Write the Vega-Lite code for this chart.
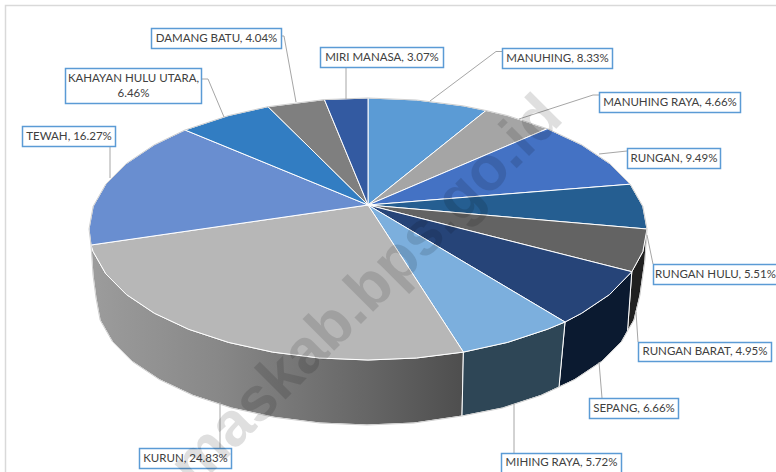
{"$schema":"https://vega.github.io/schema/vega-lite/v6.json","width":776,"height":472,"padding":0,"autosize":"none","background":"white","view":{"stroke":null},
"datasets":{
"walls":[
{"type":"Feature","properties":{"name":"RUNGAN BARAT","share":4.95},"geometry":{"type":"Polygon","coordinates":[[[647,229],[642.8,251.7],[631.8,271.7],[627.5,331],[634,320],[640,295],[645,260],[647,229]]]}},
{"type":"Feature","properties":{"name":"SEPANG","share":6.66},"geometry":{"type":"Polygon","coordinates":[[[631.8,271.7],[609.6,294.5],[581.7,313.2],[565,322],[559,387],[574.6,379.6],[601.7,361.5],[621.7,341.4],[627.5,331],[631.8,271.7]]]}},
{"type":"Feature","properties":{"name":"MIHING RAYA","share":5.72},"geometry":{"type":"Polygon","coordinates":[[[565,322],[547.3,329.3],[507.5,342.4],[463.4,352.1],[462,416],[502.5,408],[541.2,395.3],[559,387],[565,322]]]}}
],
"wallKurun":[
{"type":"Feature","properties":{"name":"KURUN","share":24.83},"geometry":{"type":"Polygon","coordinates":[[[463.4,352.1],[416.4,358],[368,360],[319.6,358],[272.6,352.1],[228.5,342.4],[188.7,329.3],[154.3,313.2],[126.4,294.5],[105.8,273.8],[93.2,251.7],[91,245],[93,275],[96,298],[100.1,320],[112.3,341.4],[132.3,361.5],[159.4,379.6],[192.8,395.3],[231.5,408],[274.3,417.3],[320,423],[367,425],[414,423],[462,416],[463.4,352.1]]]}}
],
"slices":[
{"type":"Feature","properties":{"name":"MANUHING","share":8.33},"geometry":{"type":"Polygon","coordinates":[[[368,205],[368,98],[416.4,100],[463.4,105.9],[486,110.5],[368,205]]]}},
{"type":"Feature","properties":{"name":"MANUHING RAYA","share":4.66},"geometry":{"type":"Polygon","coordinates":[[[368,205],[486,110.5],[507.5,115.6],[547.3,128.7],[368,205]]]}},
{"type":"Feature","properties":{"name":"RUNGAN","share":9.49},"geometry":{"type":"Polygon","coordinates":[[[368,205],[547.3,128.7],[581.7,144.8],[609.6,163.5],[630.2,184.2],[368,205]]]}},
{"type":"Feature","properties":{"name":"RUNGAN HULU","share":5.51},"geometry":{"type":"Polygon","coordinates":[[[368,205],[630.2,184.2],[642.8,206.3],[647,229],[368,205]]]}},
{"type":"Feature","properties":{"name":"RUNGAN BARAT","share":4.95},"geometry":{"type":"Polygon","coordinates":[[[368,205],[647,229],[642.8,251.7],[631.8,271.7],[368,205]]]}},
{"type":"Feature","properties":{"name":"SEPANG","share":6.66},"geometry":{"type":"Polygon","coordinates":[[[368,205],[631.8,271.7],[609.6,294.5],[581.7,313.2],[565,322],[368,205]]]}},
{"type":"Feature","properties":{"name":"MIHING RAYA","share":5.72},"geometry":{"type":"Polygon","coordinates":[[[368,205],[565,322],[547.3,329.3],[507.5,342.4],[463.4,352.1],[368,205]]]}},
{"type":"Feature","properties":{"name":"KURUN","share":24.83},"geometry":{"type":"Polygon","coordinates":[[[368,205],[463.4,352.1],[416.4,358],[368,360],[319.6,358],[272.6,352.1],[228.5,342.4],[188.7,329.3],[154.3,313.2],[126.4,294.5],[105.8,273.8],[93.2,251.7],[91,245],[368,205]]]}},
{"type":"Feature","properties":{"name":"TEWAH","share":16.27},"geometry":{"type":"Polygon","coordinates":[[[368,205],[91,245],[89,229],[93.2,206.3],[105.8,184.2],[126.4,163.5],[154.3,144.8],[185,130],[368,205]]]}},
{"type":"Feature","properties":{"name":"KAHAYAN HULU UTARA","share":6.46},"geometry":{"type":"Polygon","coordinates":[[[368,205],[185,130],[228.5,115.6],[268,106.7],[368,205]]]}},
{"type":"Feature","properties":{"name":"DAMANG BATU","share":4.04},"geometry":{"type":"Polygon","coordinates":[[[368,205],[268,106.7],[324.4,99.6],[368,205]]]}},
{"type":"Feature","properties":{"name":"MIRI MANASA","share":3.07},"geometry":{"type":"Polygon","coordinates":[[[368,205],[324.4,99.6],[368,98],[368,205]]]}}
],
"edges":[
{"type":"Feature","properties":{"name":"top rim"},"geometry":{"type":"LineString","coordinates":[[91,245],[89,229],[93.2,206.3],[105.8,184.2],[126.4,163.5],[154.3,144.8],[185,130],[228.5,115.6],[268,106.7],[324.4,99.6],[368,98],[416.4,100],[463.4,105.9],[486,110.5],[507.5,115.6],[547.3,128.7],[581.7,144.8],[609.6,163.5],[630.2,184.2],[642.8,206.3],[647,229],[645,260],[640,295],[634,320],[627.5,331],[621.7,341.4],[601.7,361.5],[574.6,379.6],[559,387],[541.2,395.3],[502.5,408],[462,416],[414,423],[367,425],[320,423],[274.3,417.3],[231.5,408],[192.8,395.3],[159.4,379.6],[132.3,361.5],[112.3,341.4],[100.1,320],[96,298],[93,275],[91,245]]}}
],
"leaders":[
{"type":"Feature","properties":{"name":"DAMANG BATU"},"geometry":{"type":"LineString","coordinates":[[281,36],[284,36],[296,102]]}},
{"type":"Feature","properties":{"name":"MIRI MANASA"},"geometry":{"type":"LineString","coordinates":[[346,67],[346,99]]}},
{"type":"Feature","properties":{"name":"MANUHING"},"geometry":{"type":"LineString","coordinates":[[502,51.5],[496,51.5],[430,101]]}},
{"type":"Feature","properties":{"name":"MANUHING RAYA"},"geometry":{"type":"LineString","coordinates":[[599,95],[593,95],[519,119]]}},
{"type":"Feature","properties":{"name":"RUNGAN"},"geometry":{"type":"LineString","coordinates":[[627,151],[599,154]]}},
{"type":"Feature","properties":{"name":"RUNGAN HULU"},"geometry":{"type":"LineString","coordinates":[[647,235],[653,264]]}},
{"type":"Feature","properties":{"name":"RUNGAN BARAT"},"geometry":{"type":"LineString","coordinates":[[636,312],[638,342]]}},
{"type":"Feature","properties":{"name":"SEPANG"},"geometry":{"type":"LineString","coordinates":[[599,362],[602,398]]}},
{"type":"Feature","properties":{"name":"MIHING RAYA"},"geometry":{"type":"LineString","coordinates":[[514,404],[514,453]]}},
{"type":"Feature","properties":{"name":"KURUN"},"geometry":{"type":"LineString","coordinates":[[220,402],[220,448]]}},
{"type":"Feature","properties":{"name":"TEWAH"},"geometry":{"type":"LineString","coordinates":[[110,146],[110,178]]}},
{"type":"Feature","properties":{"name":"KAHAYAN HULU UTARA"},"geometry":{"type":"LineString","coordinates":[[201,79],[208,79],[224,117]]}}
],
"boxes":[
{"type":"Feature","properties":{"name":"DAMANG BATU"},"geometry":{"type":"Polygon","coordinates":[[[151.5,28.5],[281.5,28.5],[281.5,48.5],[151.5,48.5],[151.5,28.5]]]}},
{"type":"Feature","properties":{"name":"MIRI MANASA"},"geometry":{"type":"Polygon","coordinates":[[[320.5,47.5],[443.5,47.5],[443.5,67.5],[320.5,67.5],[320.5,47.5]]]}},
{"type":"Feature","properties":{"name":"MANUHING"},"geometry":{"type":"Polygon","coordinates":[[[502.5,48.5],[612.5,48.5],[612.5,68.5],[502.5,68.5],[502.5,48.5]]]}},
{"type":"Feature","properties":{"name":"MANUHING RAYA"},"geometry":{"type":"Polygon","coordinates":[[[599.5,92.5],[740.5,92.5],[740.5,112.5],[599.5,112.5],[599.5,92.5]]]}},
{"type":"Feature","properties":{"name":"RUNGAN"},"geometry":{"type":"Polygon","coordinates":[[[627.5,148.5],[720.5,148.5],[720.5,168.5],[627.5,168.5],[627.5,148.5]]]}},
{"type":"Feature","properties":{"name":"KAHAYAN HULU UTARA"},"geometry":{"type":"Polygon","coordinates":[[[65.5,68.5],[201.5,68.5],[201.5,103.5],[65.5,103.5],[65.5,68.5]]]}},
{"type":"Feature","properties":{"name":"TEWAH"},"geometry":{"type":"Polygon","coordinates":[[[22.5,126.5],[115.5,126.5],[115.5,146.5],[22.5,146.5],[22.5,126.5]]]}},
{"type":"Feature","properties":{"name":"RUNGAN HULU"},"geometry":{"type":"Polygon","coordinates":[[[653.5,264.5],[790,264.5],[790,284.5],[653.5,284.5],[653.5,264.5]]]}},
{"type":"Feature","properties":{"name":"RUNGAN BARAT"},"geometry":{"type":"Polygon","coordinates":[[[638.5,342.5],[771.5,342.5],[771.5,361.5],[638.5,361.5],[638.5,342.5]]]}},
{"type":"Feature","properties":{"name":"SEPANG"},"geometry":{"type":"Polygon","coordinates":[[[589.5,398.5],[678.5,398.5],[678.5,418.5],[589.5,418.5],[589.5,398.5]]]}},
{"type":"Feature","properties":{"name":"MIHING RAYA"},"geometry":{"type":"Polygon","coordinates":[[[501.5,453.5],[621.5,453.5],[621.5,480],[501.5,480],[501.5,453.5]]]}},
{"type":"Feature","properties":{"name":"KURUN"},"geometry":{"type":"Polygon","coordinates":[[[139.5,448.5],[231.5,448.5],[231.5,468.5],[139.5,468.5],[139.5,448.5]]]}}
],
"frame":[
{"type":"Feature","properties":{"name":"frame"},"geometry":{"type":"LineString","coordinates":[[5.5,480],[5.5,5.5],[790,5.5]]}}
],
"labels":[
{"label":"DAMANG BATU, 4.04%","lx":216.5,"ly":38.5},
{"label":"MIRI MANASA, 3.07%","lx":382,"ly":57.5},
{"label":"MANUHING, 8.33%","lx":557.5,"ly":58.5},
{"label":"MANUHING RAYA, 4.66%","lx":670,"ly":102.5},
{"label":"RUNGAN, 9.49%","lx":674,"ly":158.5},
{"label":"KAHAYAN HULU UTARA,\n6.46%","lx":133.5,"ly":79},
{"label":"TEWAH, 16.27%","lx":69,"ly":136.5},
{"label":"RUNGAN HULU, 5.51%","lx":715.5,"ly":274.5},
{"label":"RUNGAN BARAT, 4.95%","lx":705,"ly":352},
{"label":"SEPANG, 6.66%","lx":634,"ly":408.5},
{"label":"MIHING RAYA, 5.72%","lx":561.5,"ly":463},
{"label":"KURUN, 24.83%","lx":185.5,"ly":458.5}
],
"watermark":[{"label":"maskab.bps.go.id","lx":565,"ly":120}]
},
"projection":{"type":"identity","scale":1,"translate":[0,0]},
"layer":[
{"data":{"name":"frame"},"mark":{"type":"geoshape","filled":false,"stroke":"#D9D9D9","strokeWidth":1.5},"encoding":{}},
{"data":{"name":"wallKurun"},"mark":{"type":"geoshape","stroke":"#ffffff","strokeWidth":1,"fill":{"gradient":"linear","x1":0,"y1":0,"x2":1,"y2":0,"stops":[{"offset":0,"color":"#9C9C9C"},{"offset":0.34,"color":"#888888"},{"offset":0.55,"color":"#767676"},{"offset":0.74,"color":"#666666"},{"offset":1,"color":"#4E4E4E"}]}},"encoding":{}},
{"data":{"name":"walls"},"mark":{"type":"geoshape","stroke":"#ffffff","strokeWidth":1},"encoding":{"color":{"field":"properties.name","type":"nominal","legend":null,"scale":{"domain":["RUNGAN BARAT","SEPANG","MIHING RAYA"],"range":["#202020","#0B1A30","#2E4656"]}}}},
{"data":{"name":"slices"},"mark":{"type":"geoshape","stroke":"#ffffff","strokeWidth":1},"encoding":{"fill":{"field":"properties.name","type":"nominal","legend":null,"scale":{"domain":["MANUHING","MANUHING RAYA","RUNGAN","RUNGAN HULU","RUNGAN BARAT","SEPANG","MIHING RAYA","KURUN","TEWAH","KAHAYAN HULU UTARA","DAMANG BATU","MIRI MANASA"],"range":["#5B9BD5","#A5A5A5","#4472C4","#255E91","#636363","#264478","#7CAFDD","#B7B7B7","#698ED0","#327DC2","#7F7F7F","#335AA1"]}}}},
{"data":{"name":"edges"},"mark":{"type":"geoshape","filled":false,"stroke":"#CFCFCF","strokeWidth":1},"encoding":{}},
{"data":{"name":"leaders"},"mark":{"type":"geoshape","filled":false,"stroke":"#A6A6A6","strokeWidth":1},"encoding":{}},
{"data":{"name":"boxes"},"mark":{"type":"geoshape","fill":"#ffffff","stroke":"#5B9BD5","strokeWidth":1.5},"encoding":{}},
{"data":{"name":"labels"},"mark":{"type":"text","font":"Lato","fontSize":11.5,"color":"#404040","align":"center","baseline":"middle","lineBreak":"\n","lineHeight":15},"encoding":{"longitude":{"field":"lx","type":"quantitative"},"latitude":{"field":"ly","type":"quantitative"},"text":{"field":"label","type":"nominal"}}},
{"data":{"name":"watermark"},"mark":{"type":"text","font":"Liberation Sans","fontWeight":"bold","fontSize":62,"color":"#000000","opacity":0.12,"angle":-45,"align":"right","baseline":"alphabetic"},"encoding":{"longitude":{"field":"lx","type":"quantitative"},"latitude":{"field":"ly","type":"quantitative"},"text":{"field":"label","type":"nominal"}}}
]}
